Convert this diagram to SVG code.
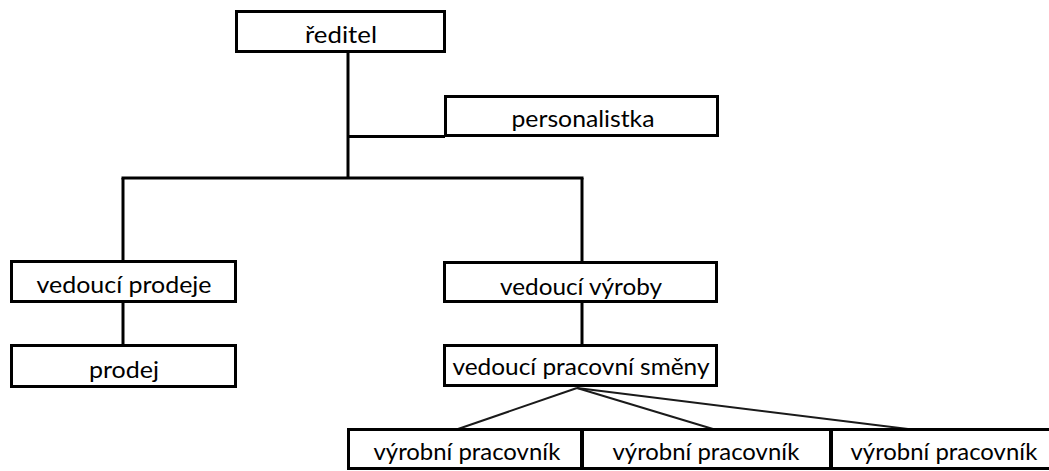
<svg xmlns="http://www.w3.org/2000/svg" width="1049" height="471" viewBox="0 0 1049 471">
  <style>
    .box { fill: #fff; stroke: #000; stroke-width: 3; }
    .lbl { font-family: Lato, "Open Sans", "DejaVu Sans", sans-serif; font-size: 23px; fill: #000; text-anchor: middle; }
    .link { fill: none; stroke: #000; stroke-width: 3; }
    .diag { fill: none; stroke: #1a1a1a; stroke-width: 2; }
  </style>
  <rect width="1049" height="471" fill="#fff"/>

  <!-- connectors -->
  <g id="connectors">
    <path class="link" d="M348 53 V178"/>
    <path class="link" d="M348 136.5 H445"/>
    <path class="link" d="M121.5 178 H583.5"/>
    <path class="link" d="M123 178 V261"/>
    <path class="link" d="M582 178 V263"/>
    <path class="link" d="M123 302 V345"/>
    <path class="link" d="M582 302 V345"/>
    <path class="diag" d="M577 388 L458 429"/>
    <path class="diag" d="M577 388 L713 429"/>
    <path class="diag" d="M577 388 L908 429"/>
  </g>

  <g id="reditel">
    <rect class="box" x="236.5" y="11.5" width="208" height="40"/>
    <text class="lbl" x="341" y="43" textLength="72" lengthAdjust="spacingAndGlyphs">ředitel</text>
  </g>

  <g id="personalistka">
    <rect class="box" x="445.5" y="96.5" width="272" height="39"/>
    <text class="lbl" x="583" y="127" textLength="143" lengthAdjust="spacingAndGlyphs">personalistka</text>
  </g>

  <g id="vedouci-prodeje">
    <rect class="box" x="11.5" y="261.5" width="224" height="40"/>
    <text class="lbl" x="124" y="293" textLength="175" lengthAdjust="spacingAndGlyphs">vedoucí prodeje</text>
  </g>

  <g id="prodej">
    <rect class="box" x="11.5" y="345.5" width="224" height="41"/>
    <text class="lbl" x="124" y="378" textLength="70" lengthAdjust="spacingAndGlyphs">prodej</text>
  </g>

  <g id="vedouci-vyroby">
    <rect class="box" x="444.5" y="262.5" width="272" height="39"/>
    <text class="lbl" x="581" y="295" textLength="162" lengthAdjust="spacingAndGlyphs">vedoucí výroby</text>
  </g>

  <g id="vedouci-smeny">
    <rect class="box" x="444.5" y="345.5" width="272" height="40"/>
    <text class="lbl" x="581" y="375" textLength="257" lengthAdjust="spacingAndGlyphs">vedoucí pracovní směny</text>
  </g>

  <g id="pracovnik-1">
    <rect class="box" x="348.5" y="429.5" width="233" height="39"/>
    <text class="lbl" x="467" y="460" textLength="187" lengthAdjust="spacingAndGlyphs">výrobní pracovník</text>
  </g>

  <g id="pracovnik-2">
    <rect class="box" x="582.5" y="429.5" width="248" height="39"/>
    <text class="lbl" x="706" y="460" textLength="187" lengthAdjust="spacingAndGlyphs">výrobní pracovník</text>
  </g>

  <g id="pracovnik-3">
    <rect class="box" x="831.5" y="429.5" width="228" height="39"/>
    <text class="lbl" x="944" y="460" textLength="187" lengthAdjust="spacingAndGlyphs">výrobní pracovník</text>
  </g>
</svg>
